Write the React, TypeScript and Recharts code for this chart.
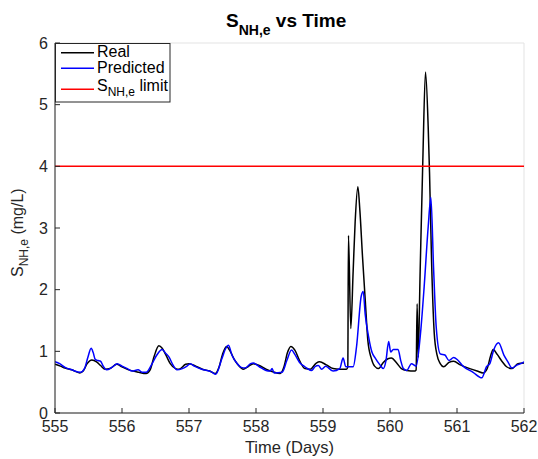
import React from "react";
import {
    LineChart,
    Line,
    XAxis,
    YAxis,
    CartesianGrid,
    ReferenceLine,
    Label,
} from "recharts";

// Real S_NH,e (mg/L) vs time (days)
const realTime = [
    555.0, 555.08, 555.15, 555.25, 555.37, 555.42, 555.48, 555.55, 555.62, 555.68,
    555.75, 555.82, 555.92, 556.0, 556.1, 556.25, 556.36, 556.42, 556.48, 556.55,
    556.6, 556.66, 556.72, 556.8, 556.85, 556.95, 557.0, 557.1, 557.2, 557.31,
    557.39, 557.45, 557.5, 557.56, 557.62, 557.68, 557.74, 557.81, 557.88, 557.96,
    558.05, 558.15, 558.25, 558.36, 558.42, 558.47, 558.52, 558.58, 558.65, 558.73,
    558.81, 558.9, 558.95, 559.05, 559.15, 559.25, 559.35, 559.37, 559.38, 559.415,
    559.45, 559.48, 559.52, 559.55, 559.59, 559.63, 559.67, 559.72, 559.77, 559.83,
    559.9, 559.97, 560.02, 560.1, 560.17, 560.25, 560.37, 560.39, 560.405, 560.42,
    560.45, 560.49, 560.53, 560.57, 560.59, 560.62, 560.66, 560.7, 560.75, 560.8,
    560.88, 560.95, 561.05, 561.19, 561.3, 561.39, 561.45, 561.5, 561.54, 561.6,
    561.67, 561.74, 561.82, 561.91, 562.0,
];
const realValue = [
    0.79, 0.76, 0.73, 0.7, 0.65, 0.68, 0.8, 0.86, 0.83, 0.77,
    0.71, 0.72, 0.79, 0.75, 0.7, 0.66, 0.64, 0.7, 0.92, 1.09,
    1.05, 0.93, 0.8, 0.72, 0.71, 0.79, 0.8, 0.76, 0.71, 0.68,
    0.64, 0.75, 0.95, 1.08, 0.99, 0.86, 0.77, 0.71, 0.75, 0.8,
    0.77, 0.71, 0.67, 0.64, 0.76, 0.98, 1.08, 1.02, 0.85, 0.72,
    0.71, 0.81, 0.83, 0.78, 0.72, 0.71, 0.71, 0.74, 2.88, 1.37,
    2.3, 3.1, 3.67, 3.29, 2.53, 1.84, 1.17, 0.89, 0.76, 0.72,
    0.82, 0.88, 0.89, 0.81, 0.72, 0.69, 0.68, 0.7, 1.77, 0.9,
    2.3, 4.1, 5.53, 4.64, 3.9, 2.48, 1.3, 0.95, 0.8, 0.75,
    0.82, 0.84, 0.78, 0.72, 0.68, 0.65, 0.72, 0.92, 1.03, 0.95,
    0.84, 0.75, 0.72, 0.8, 0.81,
];

// Predicted S_NH,e (mg/L) vs time (days)
const predTime = [
    555.0, 555.07, 555.15, 555.25, 555.38, 555.44, 555.49, 555.54, 555.57, 555.6,
    555.64, 555.68, 555.72, 555.77, 555.85, 555.93, 556.0, 556.08, 556.15, 556.24,
    556.3, 556.36, 556.45, 556.52, 556.6, 556.65, 556.7, 556.76, 556.82, 556.9,
    556.97, 557.02, 557.08, 557.19, 557.33, 557.4, 557.49, 557.55, 557.59, 557.64,
    557.72, 557.78, 557.84, 557.92, 557.96, 558.05, 558.15, 558.21, 558.24, 558.27,
    558.39, 558.46, 558.53, 558.58, 558.65, 558.73, 558.83, 558.88, 558.93, 558.98,
    559.04, 559.15, 559.25, 559.3, 559.34, 559.45, 559.5, 559.57, 559.6, 559.63,
    559.68, 559.73, 559.78, 559.85, 559.9, 559.94, 559.98, 560.01, 560.05, 560.12,
    560.16, 560.2, 560.25, 560.32, 560.39, 560.45, 560.51, 560.57, 560.61, 560.65,
    560.69, 560.75, 560.82, 560.88, 560.95, 561.01, 561.09, 561.24, 561.37, 561.44,
    561.49, 561.55, 561.62, 561.7, 561.76, 561.82, 561.9, 561.97, 562.0,
];
const predValue = [
    0.83, 0.8, 0.74, 0.7, 0.66, 0.72, 0.9, 1.05, 0.98, 0.87,
    0.85, 0.84, 0.76, 0.7, 0.74, 0.8, 0.76, 0.72, 0.68, 0.7,
    0.66, 0.66, 0.8, 0.94, 1.03, 0.97, 0.91, 0.78, 0.7, 0.72,
    0.76, 0.8, 0.76, 0.71, 0.67, 0.63, 0.88, 1.05, 1.1, 0.94,
    0.8, 0.74, 0.73, 0.8, 0.81, 0.75, 0.69, 0.68, 0.72, 0.65,
    0.66, 0.85, 1.02, 0.95, 0.82, 0.75, 0.69, 0.75, 0.77, 0.71,
    0.76, 0.68, 0.72, 0.89, 0.75, 0.75, 1.07, 1.89, 1.97, 1.6,
    1.24, 0.99, 0.89, 0.78, 0.72, 0.85, 1.16, 0.99, 1.03, 1.03,
    0.85, 0.72, 0.69, 0.8, 0.76, 1.23, 2.05, 3.02, 3.5, 2.36,
    1.39, 0.96, 0.94, 0.85, 0.9, 0.86, 0.76, 0.66, 0.57, 0.75,
    0.8, 1.03, 1.14, 0.94, 0.83, 0.73, 0.78, 0.81, 0.83,
];

const limitValue = 4;
const xTicks = [555, 556, 557, 558, 559, 560, 561, 562];
const yTicks = [0, 1, 2, 3, 4, 5, 6];

const realData = realTime.map((t, i) => ({ t, v: realValue[i] }));
const predData = predTime.map((t, i) => ({ t, v: predValue[i] }));

const FONT = "'Liberation Sans', Arial, Helvetica, sans-serif";
const AXIS = "#262626";
const tickStyle = { fontSize: 16, fill: AXIS, fontFamily: FONT };

const App: React.FC = () => {
    return (
        <div style={{ position: "absolute", left: 0, top: 0, width: 538, height: 459, background: "#fff" }}>
            <LineChart
                width={538}
                height={459}
                margin={{ top: 43, right: 14, left: 0, bottom: 0 }}
            >
                <CartesianGrid stroke="#e3e3e3" strokeWidth={1} />
                <XAxis
                    xAxisId="bottom"
                    dataKey="t"
                    type="number"
                    domain={[555, 562]}
                    ticks={xTicks}
                    allowDataOverflow
                    height={46}
                    stroke={AXIS}
                    tick={tickStyle}
                    tickSize={-5}
                    tickMargin={13}
                >
                    <Label
                        content={() => (
                            <text x={289.5} y={453} textAnchor="middle" fontSize={16.5} fill={AXIS} fontFamily={FONT}>
                                Time (Days)
                            </text>
                        )}
                    />
                </XAxis>
                <XAxis
                    xAxisId="top"
                    orientation="top"
                    dataKey="t"
                    type="number"
                    domain={[555, 562]}
                    ticks={xTicks}
                    allowDataOverflow
                    height={0}
                    stroke={AXIS}
                    tickFormatter={() => ""}
                    tickSize={-5}
                />
                <YAxis
                    yAxisId="left"
                    type="number"
                    domain={[0, 6]}
                    ticks={yTicks}
                    width={55}
                    stroke={AXIS}
                    tick={tickStyle}
                    tickSize={-5}
                    tickMargin={12}
                >
                    <Label
                        content={() => (
                            <text
                                transform="translate(23.3,277) rotate(-90)"
                                fontSize={16}
                                fill={AXIS}
                                fontFamily={FONT}
                            >
                                S
                                <tspan fontSize={12} dy={5}>NH,e</tspan>
                                <tspan fontSize={16} dy={-5}> (mg/L)</tspan>
                            </text>
                        )}
                    />
                </YAxis>
                <YAxis
                    yAxisId="right"
                    orientation="right"
                    type="number"
                    domain={[0, 6]}
                    ticks={yTicks}
                    width={0}
                    stroke={AXIS}
                    tickFormatter={() => ""}
                    tickSize={-5}
                />
                <Line
                    xAxisId="bottom"
                    yAxisId="left"
                    data={realData}
                    dataKey="v"
                    name="Real"
                    type="monotone"
                    stroke="#000000"
                    strokeWidth={1.5}
                    dot={false}
                    isAnimationActive={false}
                />
                <Line
                    xAxisId="bottom"
                    yAxisId="left"
                    data={predData}
                    dataKey="v"
                    name="Predicted"
                    type="monotone"
                    stroke="#0000ff"
                    strokeWidth={1.5}
                    dot={false}
                    isAnimationActive={false}
                />
                <ReferenceLine
                    xAxisId="bottom"
                    yAxisId="left"
                    y={limitValue}
                    stroke="#ff0000"
                    strokeWidth={1.5}
                />
            </LineChart>
            <svg
                width={538}
                height={459}
                style={{ position: "absolute", left: 0, top: 0, pointerEvents: "none" }}
                fontFamily={FONT}
            >
                <text x={226} y={26.7} fontSize={19} fontWeight="bold" fill="#000">
                    S
                    <tspan fontSize={14} dy={8}>NH,e</tspan>
                    <tspan fontSize={19} dy={-8}> vs Time</tspan>
                </text>
                <rect x={55.5} y={43.5} width={114.5} height={58.5} fill="#fff" stroke={AXIS} strokeWidth={1} />
                <line x1={61} x2={94} y1={52.7} y2={52.7} stroke="#000" strokeWidth={1.5} />
                <text x={97} y={57} fontSize={16} fill="#000">Real</text>
                <line x1={61} x2={94} y1={68.3} y2={68.3} stroke="#0000ff" strokeWidth={1.5} />
                <text x={97} y={72.7} fontSize={16} fill="#000">Predicted</text>
                <line x1={61} x2={94} y1={89.3} y2={89.3} stroke="#ff0000" strokeWidth={1.5} />
                <text x={97} y={91} fontSize={16} fill="#000">
                    S
                    <tspan fontSize={12} dy={5}>NH,e</tspan>
                    <tspan fontSize={16} dy={-5}> limit</tspan>
                </text>
            </svg>
        </div>
    );
};

export default App;
